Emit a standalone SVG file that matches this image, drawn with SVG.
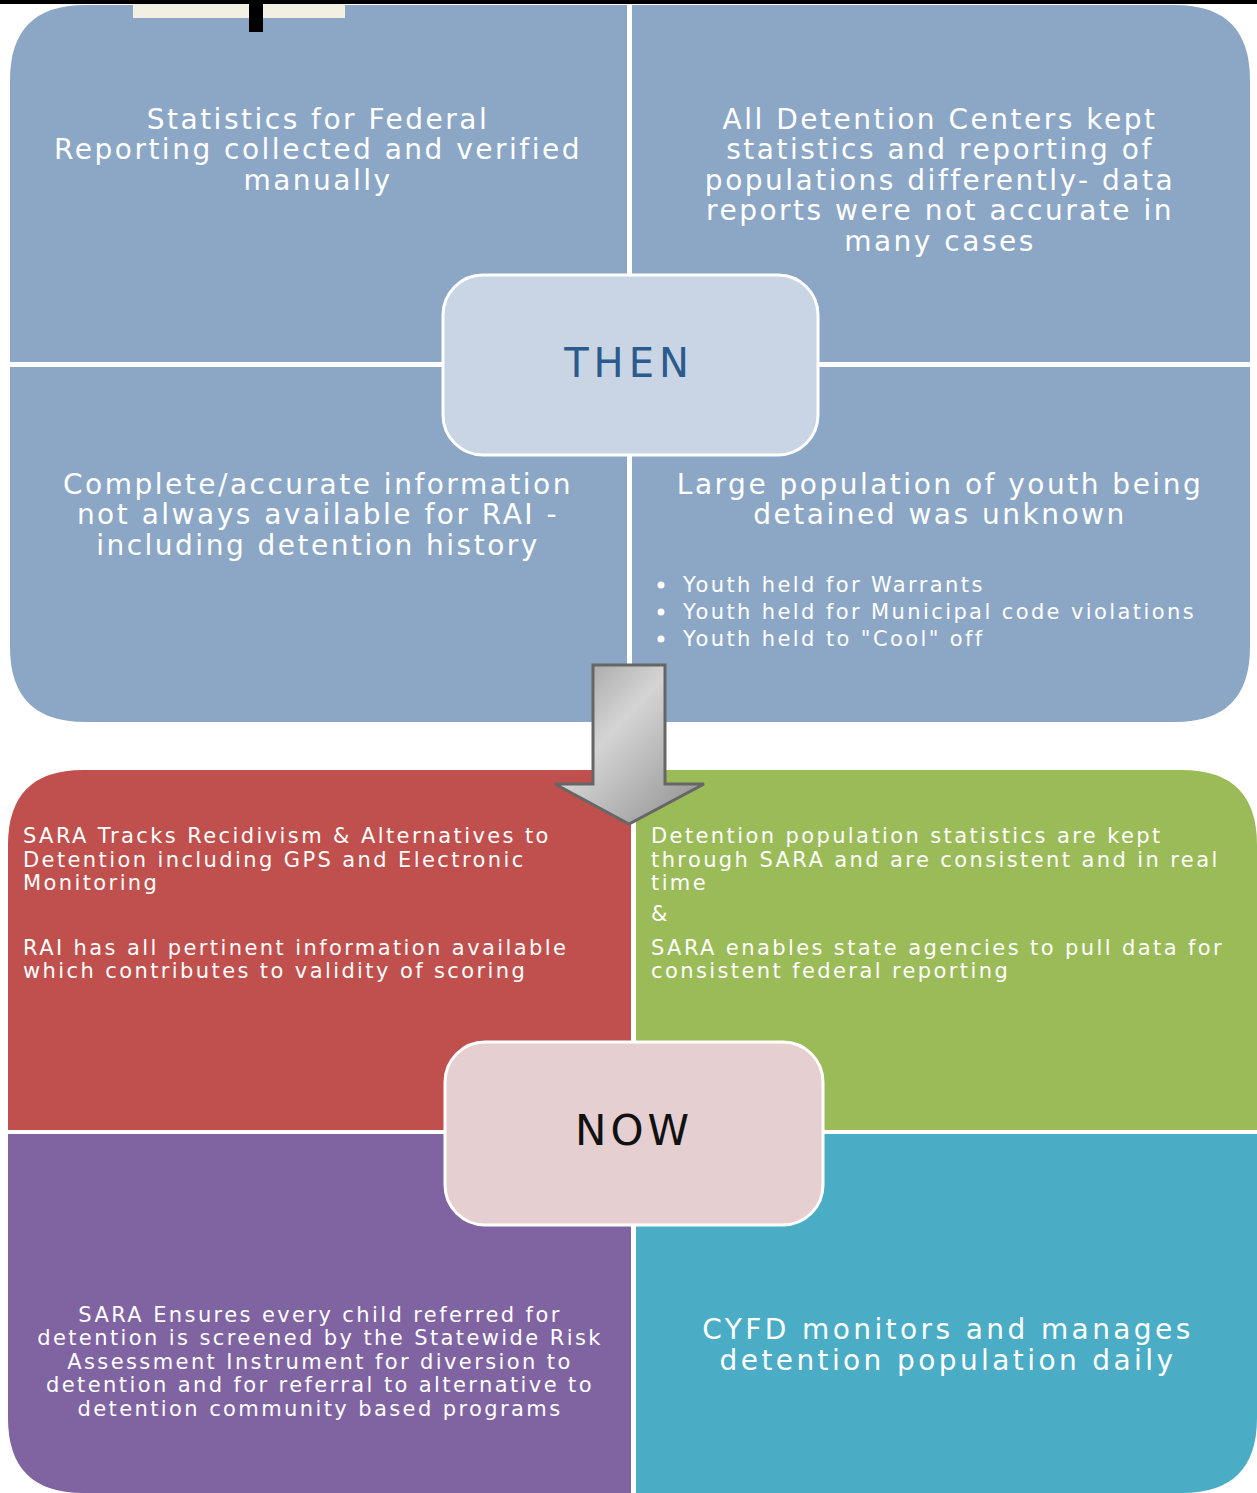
<svg xmlns="http://www.w3.org/2000/svg" width="1257" height="1493" viewBox="0 0 1257 1493">
<defs>
<style>
.q{font-family:"DejaVu Sans","Liberation Sans",sans-serif;fill:#ffffff;}
.big{font-size:28px;letter-spacing:2.5px;text-anchor:middle;}
.sm{font-size:21px;letter-spacing:2.4px;}
.mid{text-anchor:middle;}
.teal{font-size:28px;letter-spacing:3.4px;text-anchor:middle;}
</style>
<linearGradient id="ag" x1="0" y1="0" x2="1" y2="1">
<stop offset="0" stop-color="#9a9a9a"/>
<stop offset="0.4" stop-color="#d4d4d4"/>
<stop offset="1" stop-color="#8c8c8c"/>
</linearGradient>
</defs>
<rect width="1257" height="1493" fill="#ffffff"/>

<g id="then-tl">
<path d="M10,362 V80 Q10,5 85,5 H627 V362 Z" fill="#8CA7C6"/>
<text class="q big"><tspan x="318" y="129">Statistics for Federal</tspan><tspan x="318" y="159">Reporting collected and verified</tspan><tspan x="318" y="190">manually</tspan></text>
</g>
<g id="then-tr">
<path d="M632,5 H1175 Q1250,5 1250,80 V362 H632 Z" fill="#8CA7C6"/>
<text class="q big"><tspan x="940" y="129">All Detention Centers kept</tspan><tspan x="940" y="159">statistics and reporting of</tspan><tspan x="940" y="190">populations differently- data</tspan><tspan x="940" y="220">reports were not accurate in</tspan><tspan x="940" y="251">many cases</tspan></text>
</g>
<g id="then-bl">
<path d="M10,367 H627 V722 H85 Q10,722 10,647 Z" fill="#8CA7C6"/>
<text class="q big"><tspan x="318" y="494">Complete/accurate information</tspan><tspan x="318" y="524">not always available for RAI -</tspan><tspan x="318" y="555">including detention history</tspan></text>
</g>
<g id="then-br">
<path d="M632,367 H1250 V647 Q1250,722 1175,722 H632 Z" fill="#8CA7C6"/>
<text class="q big"><tspan x="940" y="494">Large population of youth being</tspan><tspan x="940" y="524">detained was unknown</tspan></text>
<g fill="#ffffff"><circle cx="661" cy="585" r="3.5"/><circle cx="661" cy="612" r="3.5"/><circle cx="661" cy="639" r="3.5"/></g>
<text class="q sm"><tspan x="683" y="592">Youth held for  Warrants</tspan><tspan x="683" y="619">Youth held for Municipal code violations</tspan><tspan x="683" y="646">Youth held  to "Cool" off</tspan></text>
</g>
<g id="then">
<rect x="443" y="275" width="375" height="180" rx="40" fill="#C9D4E4" stroke="#ffffff" stroke-width="3"/>
<text x="629" y="377" text-anchor="middle" font-family="DejaVu Sans, sans-serif" font-size="40" letter-spacing="5" fill="#2B5A8C">THEN</text>
</g>

<g id="now-tl">
<path d="M8,1130 V845 Q8,770 83,770 H631 V1130 Z" fill="#C0504D"/>
<text class="q sm"><tspan x="23" y="843">SARA Tracks Recidivism &amp; Alternatives to</tspan><tspan x="23" y="867">Detention including GPS and Electronic</tspan><tspan x="23" y="890">Monitoring</tspan><tspan x="23" y="955">RAI has all pertinent information available</tspan><tspan x="23" y="978">which contributes to validity of scoring</tspan></text>
</g>
<g id="now-tr">
<path d="M636,770 H1182 Q1257,770 1257,845 V1130 H636 Z" fill="#9BBB59"/>
<text class="q sm"><tspan x="651" y="843">Detention population statistics are kept</tspan><tspan x="651" y="867">through SARA and are consistent and in real</tspan><tspan x="651" y="890">time</tspan><tspan x="651" y="921">&amp;</tspan><tspan x="651" y="955">SARA enables state agencies to pull data for</tspan><tspan x="651" y="978">consistent federal reporting</tspan></text>
</g>
<g id="now-bl">
<path d="M8,1134 H631 V1493 H83 Q8,1493 8,1418 Z" fill="#8064A2"/>
<text class="q sm mid"><tspan x="320" y="1322">SARA Ensures every child referred for</tspan><tspan x="320" y="1345">detention is screened by the Statewide Risk</tspan><tspan x="320" y="1369">Assessment Instrument for diversion to</tspan><tspan x="320" y="1392">detention and for referral to alternative to</tspan><tspan x="320" y="1416">detention community based programs</tspan></text>
</g>
<g id="now-br">
<path d="M636,1134 H1257 V1418 Q1257,1493 1182,1493 H636 Z" fill="#4BACC6"/>
<text class="q teal"><tspan x="948" y="1339">CYFD monitors and manages</tspan><tspan x="948" y="1370">detention population daily</tspan></text>
</g>
<g id="now">
<rect x="445" y="1042" width="378" height="183" rx="40" fill="#E6CFD0" stroke="#ffffff" stroke-width="3"/>
<text x="634" y="1145" text-anchor="middle" font-family="DejaVu Sans, sans-serif" font-size="42" letter-spacing="4" fill="#111111">NOW</text>
</g>

<g id="connectors">
<path d="M593,665 H665 V784 H704 L629,824 L555,784 H593 Z" fill="url(#ag)" stroke="#666666" stroke-width="3" stroke-linejoin="miter"/>
</g>

<rect x="0" y="0" width="1257" height="4" fill="#000"/>
<rect x="133" y="4" width="212" height="14" fill="#f2f0e2"/>
<rect x="249" y="4" width="14" height="28" fill="#000"/>
</svg>
